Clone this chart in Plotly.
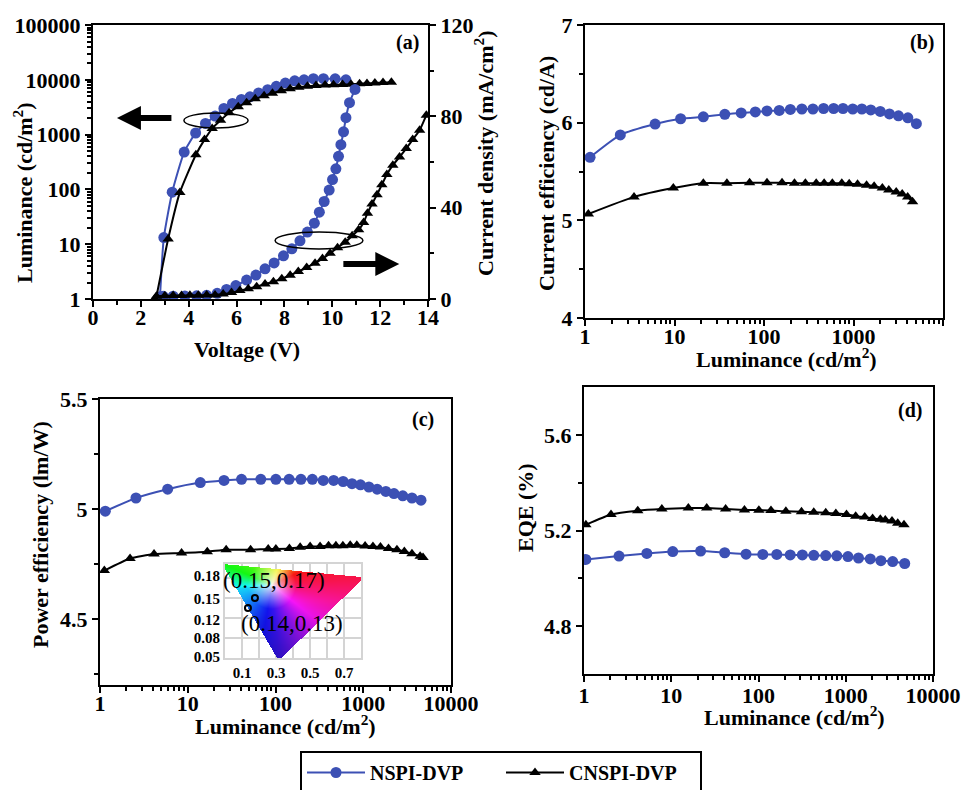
import numpy as np
import plotly.graph_objects as go

# ---------------- data ----------------
# (a) luminance vs voltage
volt_lum_nspi = [2.80, 2.96, 3.31, 3.81, 4.29, 4.70, 5.10, 5.47, 5.83, 6.20, 6.56, 6.92, 7.30, 7.66,
                 8.04, 8.43, 8.82, 9.21, 9.63, 10.12, 10.57]
lum_nspi = [1.1, 13.2, 89, 480, 1070, 1600, 2180, 3000, 3700, 4370, 4900, 5750, 6600, 7600,
            8700, 9600, 10000, 10500, 10500, 10400, 10000]
volt_lum_cnspi = [2.65, 3.14, 3.63, 4.30, 4.66, 4.98, 5.33, 5.69, 6.07, 6.42, 6.78, 7.15, 7.50, 7.87,
                  8.24, 8.60, 8.96, 9.32, 9.70, 10.05, 10.43, 10.78, 11.14, 11.45, 11.78, 12.12, 12.47]
lum_cnspi = [1.1, 12.4, 88, 430, 810, 1290, 1820, 2500, 3230, 3800, 4500, 5100, 5700, 6300,
             6900, 7300, 7600, 7900, 8000, 8100, 8200, 8300, 8500, 8600, 8700, 8900, 9000]
# (a) current density vs voltage
volt_j_nspi = [2.93, 3.35, 3.84, 4.33, 4.75, 5.19, 5.58, 5.97, 6.42, 6.81, 7.19, 7.57, 7.96, 8.31,
               8.65, 8.96, 9.25, 9.46, 9.66, 9.87, 10.01, 10.15, 10.26, 10.36, 10.47, 10.57, 10.72, 10.95]
j_nspi = [1.2, 1.2, 1.3, 1.4, 1.6, 2.5, 4.2, 5.9, 8.3, 10.5, 13.2, 15.8, 18.9, 22.0,
          25.5, 29.3, 33.2, 38.0, 42.7, 47.7, 52.3, 57.0, 62.5, 67.6, 73.2, 79.4, 86.0, 91.8]
volt_j_cnspi = [2.65, 3.00, 3.35, 3.70, 4.05, 4.40, 4.75, 5.10, 5.44, 5.79, 6.14, 6.49, 6.84, 7.19,
                7.54, 7.89, 8.24, 8.58, 8.93, 9.28, 9.59, 9.91, 10.22, 10.54, 10.83, 11.10, 11.31,
                11.47, 11.66, 11.87, 12.07, 12.28, 12.53, 12.81, 13.09, 13.36, 13.65, 13.93]
j_cnspi = [1.2, 1.4, 1.5, 1.5, 1.6, 1.6, 1.7, 1.8, 2.2, 2.8, 3.7, 4.5, 5.4, 6.6,
           7.6, 8.9, 10.4, 12.0, 13.8, 15.7, 17.7, 20.0, 22.5, 24.9, 27.7, 30.3, 33.5,
           37.6, 41.6, 45.7, 50.0, 54.5, 58.6, 62.2, 65.9, 69.8, 73.9, 80.5]

# (b) current efficiency vs luminance
lum_ce_nspi = [1.14, 2.48, 6.07, 11.7, 21, 36.5, 55.6, 80, 108, 148, 197, 265, 352, 463, 600, 763,
               980, 1240, 1560, 1990, 2520, 3180, 4050, 5040]
ce_nspi = [5.645, 5.874, 5.986, 6.04, 6.06, 6.085, 6.10, 6.11, 6.12, 6.125, 6.135, 6.14, 6.14, 6.145,
           6.145, 6.145, 6.14, 6.14, 6.13, 6.115, 6.09, 6.07, 6.05, 5.99]
lum_ce_cnspi = [1.09, 3.53, 9.7, 21, 38.5, 69, 108, 159, 219, 290, 383, 470, 580, 740, 895, 1110,
                1400, 1700, 2100, 2480, 3000, 3500, 4030, 4570]
ce_cnspi = [5.065, 5.24, 5.33, 5.38, 5.38, 5.385, 5.385, 5.385, 5.38, 5.38, 5.38, 5.38, 5.38, 5.38,
            5.375, 5.37, 5.36, 5.35, 5.33, 5.31, 5.29, 5.27, 5.24, 5.19]

# (c) power efficiency vs luminance
lum_pe_nspi = [1.15, 2.57, 5.9, 13.9, 25.9, 41, 68, 101, 143, 195, 263, 350, 460, 590, 745, 930,
               1160, 1440, 1810, 2240, 2820, 3590, 4550]
pe_nspi = [4.99, 5.05, 5.09, 5.12, 5.13, 5.135, 5.135, 5.135, 5.135, 5.135, 5.135, 5.13, 5.13, 5.125,
           5.115, 5.11, 5.10, 5.09, 5.08, 5.07, 5.06, 5.05, 5.04]
lum_pe_cnspi = [1.12, 2.2, 4.13, 8.5, 16.7, 27.4, 52, 82.6, 101, 144, 191, 248, 322, 402, 488, 586,
                710, 845, 1050, 1290, 1570, 1940, 2420, 2940, 3590, 4450, 4800]
pe_cnspi = [4.72, 4.775, 4.795, 4.80, 4.806, 4.815, 4.815, 4.818, 4.818, 4.82, 4.826, 4.83, 4.83,
            4.833, 4.833, 4.833, 4.835, 4.835, 4.832, 4.83, 4.827, 4.82, 4.815, 4.807, 4.797, 4.785, 4.78]

# (d) EQE vs luminance
lum_eqe_nspi = [1.05, 2.52, 5.25, 10.4, 21.7, 41, 72, 112, 162, 231, 318, 430, 590, 790, 1060, 1400,
                1910, 2530, 3450, 4740]
eqe_nspi = [5.079, 5.093, 5.104, 5.112, 5.114, 5.107, 5.101, 5.10, 5.10, 5.098, 5.098, 5.096, 5.095,
            5.094, 5.091, 5.085, 5.081, 5.074, 5.07, 5.062]
lum_eqe_cnspi = [1.05, 2.04, 4.13, 7.8, 15.7, 25.5, 42, 69, 101, 139, 206, 311, 430, 590, 770, 1020,
                 1300, 1650, 2030, 2490, 2840, 3390, 3940, 4650]
eqe_cnspi = [5.224, 5.267, 5.283, 5.29, 5.294, 5.294, 5.29, 5.286, 5.285, 5.284, 5.28, 5.278, 5.276,
             5.274, 5.271, 5.267, 5.26, 5.256, 5.25, 5.247, 5.244, 5.24, 5.23, 5.224]

# inset CIE points
cie_x = [0.176, 0.135]
cie_y = [0.1447, 0.1287]
cie_labels = ["(0.15,0.17)", "(0.14,0.13)"]

log_ticks = [1, 10, 100, 1000, 10000]
log_ticktext = ["1", "10", "100", "1000", "10000"]

# ---------------- figure ----------------
W, H = 969, 790
BLUE = "#3c50b4"
FONT = "Liberation Serif"


def px(x):
    return x / W


def py(y):
    return 1 - y / H


def tfont(size=22, weight="bold"):
    return dict(family=FONT, size=size, color="black", weight=weight)


fig = go.Figure()


def add(x, y, xa, ya, series, show):
    col = BLUE if series == "n" else "black"
    sym = "circle" if series == "n" else "triangle-up"
    fig.add_trace(go.Scatter(
        x=x, y=y, xaxis=xa, yaxis=ya, mode="lines+markers",
        line=dict(color=col, width=2, shape="spline", smoothing=0.5),
        marker=dict(symbol=sym, size=11 if series == "n" else 10, color=col),
        name="NSPI-DVP" if series == "n" else "CNSPI-DVP",
        legendgroup=series, showlegend=show, hoverinfo="skip"))


add(volt_lum_nspi, lum_nspi, "x", "y", "n", True)
add(volt_lum_cnspi, lum_cnspi, "x", "y", "c", True)
add(volt_j_nspi, j_nspi, "x", "y2", "n", False)
add(volt_j_cnspi, j_cnspi, "x", "y2", "c", False)
add(lum_ce_nspi, ce_nspi, "x3", "y3", "n", False)
add(lum_ce_cnspi, ce_cnspi, "x3", "y3", "c", False)
add(lum_pe_nspi, pe_nspi, "x4", "y4", "n", False)
add(lum_pe_cnspi, pe_cnspi, "x4", "y4", "c", False)
add(lum_eqe_nspi, eqe_nspi, "x5", "y5", "n", False)
add(lum_eqe_cnspi, eqe_cnspi, "x5", "y5", "c", False)

# ---- inset CIE-like colour triangle (procedural image) ----
Wimg, Himg = 136, 94
cols = np.arange(Wimg) + 225 + 0.5
rows = 658 - (np.arange(Himg) + 0.5)
PX, PY = np.meshgrid(cols, rows)
A = (224.0, 565.0)
B = (362.0, 578.0)
C = (279.0, 659.0)
det = (B[1] - C[1]) * (A[0] - C[0]) + (C[0] - B[0]) * (A[1] - C[1])
wa = ((B[1] - C[1]) * (PX - C[0]) + (C[0] - B[0]) * (PY - C[1])) / det
wb = ((C[1] - A[1]) * (PX - C[0]) + (A[0] - C[0]) * (PY - C[1])) / det
wc = 1 - wa - wb
inside = (wa >= -0.01) & (wb >= -0.01) & (wc >= -0.01)
WX, WY = 272.0, 585.0
ang = np.degrees(np.arctan2(-(PY - WY), PX - WX)) % 360
ang = np.where(ang < 4, ang + 360, ang)
hue = np.interp(ang, [4, 25, 65, 157, 187, 238, 275, 322, 364],
                [345, 360, 415, 480, 550, 585, 610, 660, 705]) % 360
dist = np.hypot(PX - WX, PY - WY)
sat = np.clip((dist / 24.0) ** 0.8, 0, 1) * 0.92
val = 0.97 - 0.2 * np.clip((PY - 600.0) / 55.0, 0, 1)
hh = (hue % 360) / 60.0
ii = np.floor(hh).astype(int) % 6
ff = hh - np.floor(hh)
p = val * (1 - sat)
q = val * (1 - sat * ff)
t = val * (1 - sat * (1 - ff))
r = np.choose(ii, [val, q, p, p, t, val])
g = np.choose(ii, [t, val, val, q, p, p])
b = np.choose(ii, [p, p, t, val, val, q])
img = np.stack([np.round(r * 255), np.round(g * 255), np.round(b * 255), inside.astype(float)], axis=-1)

x_lo, x_hi = 0.0, 0.8
y_lo, y_hi = 0.0484, 0.1993
fig.add_trace(go.Image(z=img.tolist(), colormodel="rgba", x0=(x_hi - x_lo) / Wimg / 2,
                       dx=(x_hi - x_lo) / Wimg, y0=y_lo + (y_hi - y_lo) / Himg / 2,
                       dy=(y_hi - y_lo) / Himg, xaxis="x6", yaxis="y6", hoverinfo="skip"))
fig.add_trace(go.Scatter(x=cie_x, y=cie_y, xaxis="x6", yaxis="y6", mode="markers",
                         marker=dict(symbol="circle-open", size=6, color="black", line=dict(width=2)),
                         showlegend=False, hoverinfo="skip"))


# ---------------- axes ----------------
def axis(domain, anchor, **kw):
    d = dict(domain=domain, anchor=anchor, showline=True, linecolor="black", linewidth=2, mirror=True,
             ticks="outside", ticklen=6, tickwidth=2, tickcolor="black", showgrid=False,
             zeroline=False, tickfont=tfont(), fixedrange=True, automargin=False)
    d.update(kw)
    return d


def minor_log(decades):
    return dict(tickmode="array", tickvals=[k * 10 ** d for d in range(decades) for k in range(2, 10)],
                ticks="outside", ticklen=4, tickwidth=1.5, tickcolor="black")


layout_axes = dict(
    xaxis=axis([px(93), px(428)], "y", range=[0, 14], tickmode="linear", tick0=0, dtick=2,
               ticklabelstandoff=-8,
               minor=dict(dtick=1, ticks="outside", ticklen=4, tickwidth=1.5, tickcolor="black")),
    yaxis=axis([py(299), py(25)], "x", type="log", range=[0, 5],
               tickvals=[1, 10, 100, 1000, 10000, 100000],
               ticktext=["1", "10", "100", "1000", "10000", "100000"], minor=minor_log(5)),
    yaxis2=axis([py(299), py(25)], "x", overlaying="y", side="right", range=[0, 120], mirror=False,
                tickvals=[0, 40, 80, 120],
                minor=dict(tickmode="array", tickvals=[20, 60, 100], ticks="outside", ticklen=4,
                           tickwidth=1.5, tickcolor="black")),
    xaxis3=axis([px(585), px(943)], "y3", type="log", range=[0, 4], tickvals=log_ticks,
                ticktext=log_ticktext, minor=minor_log(4), ticklabelstandoff=-8),
    yaxis3=axis([py(318), py(25)], "x3", range=[4, 7], tickvals=[4, 5, 6, 7],
                minor=dict(tickmode="array", tickvals=[4.5, 5.5, 6.5], ticks="outside", ticklen=4,
                           tickwidth=1.5, tickcolor="black")),
    xaxis4=axis([px(100), px(451)], "y4", type="log", range=[0, 4], tickvals=log_ticks,
                ticktext=log_ticktext, minor=minor_log(4), ticklabelstandoff=-8),
    yaxis4=axis([py(685), py(399)], "x4", range=[4.2, 5.5], tickvals=[4.5, 5, 5.5],
                ticktext=["4.5", "5", "5.5"],
                minor=dict(tickmode="array", tickvals=[4.25, 4.75, 5.25], ticks="outside", ticklen=4,
                           tickwidth=1.5, tickcolor="black")),
    xaxis5=axis([px(584), px(933)], "y5", type="log", range=[0, 4], tickvals=log_ticks,
                ticktext=log_ticktext, minor=minor_log(4), ticklabelstandoff=-5),
    yaxis5=axis([py(674), py(387)], "x5", range=[4.6, 5.8], tickvals=[4.8, 5.2, 5.6],
                ticktext=["4.8", "5.2", "5.6"],
                minor=dict(tickmode="array", tickvals=[5.0, 5.4], ticks="outside", ticklen=4,
                           tickwidth=1.5, tickcolor="black")),
    xaxis6=dict(domain=[px(225), px(361)], anchor="y6", range=[x_lo, x_hi], showline=True,
                linecolor="#d4d4d4", linewidth=2, mirror=True, ticks="", zeroline=False,
                tickvals=[0.1, 0.3, 0.5, 0.7], ticktext=["0.1", "0.3", "0.5", "0.7"],
                tickfont=tfont(15), showgrid=False, fixedrange=True, automargin=False,
                minor=dict(tickmode="linear", tick0=0, dtick=0.1, showgrid=True,
                           gridcolor="#d4d4d4", gridwidth=2, ticks="")),
    yaxis6=dict(domain=[py(658), py(564)], anchor="x6", range=[y_lo, y_hi], autorange=False,
                scaleanchor=False, showline=True, linecolor="#d4d4d4", linewidth=2, mirror=True,
                ticks="", zeroline=False, tickvals=[0.05, 0.0805, 0.1094, 0.1431, 0.18],
                ticktext=["0.05", "0.08", "0.12", "0.15", "0.18"], tickfont=tfont(15),
                showgrid=False, fixedrange=True, automargin=False,
                minor=dict(tickmode="linear", tick0=y_lo, dtick=0.0321, showgrid=True,
                           gridcolor="#d4d4d4", gridwidth=2, ticks="")),
)

# ---------------- annotations ----------------
ann = []


def label(text, x, y, angle=0, size=22, weight="bold"):
    ann.append(dict(text=text, x=px(x), y=py(y), xref="paper", yref="paper", showarrow=False,
                    textangle=angle, xanchor="center", yanchor="middle", font=tfont(size, weight)))


label("Luminance (cd/m<sup>2</sup>)", 23, 193, -90)
label("Current density (mA/cm<sup>2</sup>)", 484, 153, -90)
label("Voltage (V)", 247, 350)
label("Current efficiency (cd/A)", 546, 174, -90)
label("Luminance (cd/m<sup>2</sup>)", 786, 358)
label("Power efficiency (lm/W)", 40, 535, -90)
label("Luminance (cd/m<sup>2</sup>)", 285, 725)
label("EQE (%)", 525, 508, -90)
label("Luminance (cd/m<sup>2</sup>)", 794, 716)
label("(a)", 407, 43, size=20)
label("(b)", 922, 43, size=20)
label("(c)", 423, 419, size=20)
label("(d)", 910, 410, size=20)
label(cie_labels[0], 274, 580, size=23, weight="normal")
label(cie_labels[1], 292, 623, size=23, weight="normal")

# arrows in (a)
ann.append(dict(x=1.0, y=79.3, xref="x", yref="y2", ax=3.34, ay=79.3, axref="x", ayref="y2",
                showarrow=True, arrowhead=2, arrowsize=0.8, arrowwidth=6, arrowcolor="black", text=""))
ann.append(dict(x=12.8, y=15.3, xref="x", yref="y2", ax=10.4, ay=15.3, axref="x", ayref="y2",
                showarrow=True, arrowhead=2, arrowsize=0.8, arrowwidth=6, arrowcolor="black", text=""))

shapes = [
    dict(type="circle", xref="x", yref="y2", x0=3.80, x1=6.48, y0=74.9, y1=81.5,
         line=dict(color="black", width=1.5)),
    dict(type="circle", xref="x", yref="y2", x0=7.61, x1=11.28, y0=21.9, y1=29.3,
         line=dict(color="black", width=1.5)),
]

fig.update_layout(
    template="none",
    width=W, height=H, margin=dict(l=0, r=0, t=0, b=0, autoexpand=False),
    paper_bgcolor="white", plot_bgcolor="white",
    font=dict(family=FONT, color="black"),
    annotations=ann, shapes=shapes,
    showlegend=True,
    legend=dict(orientation="h", x=px(300), y=py(751), xanchor="left", yanchor="top",
                bordercolor="black", borderwidth=2, bgcolor="white",
                font=tfont(20), entrywidth=126, itemwidth=58, traceorder="normal"),
    **layout_axes,
)

fig.write_html("out.html")
